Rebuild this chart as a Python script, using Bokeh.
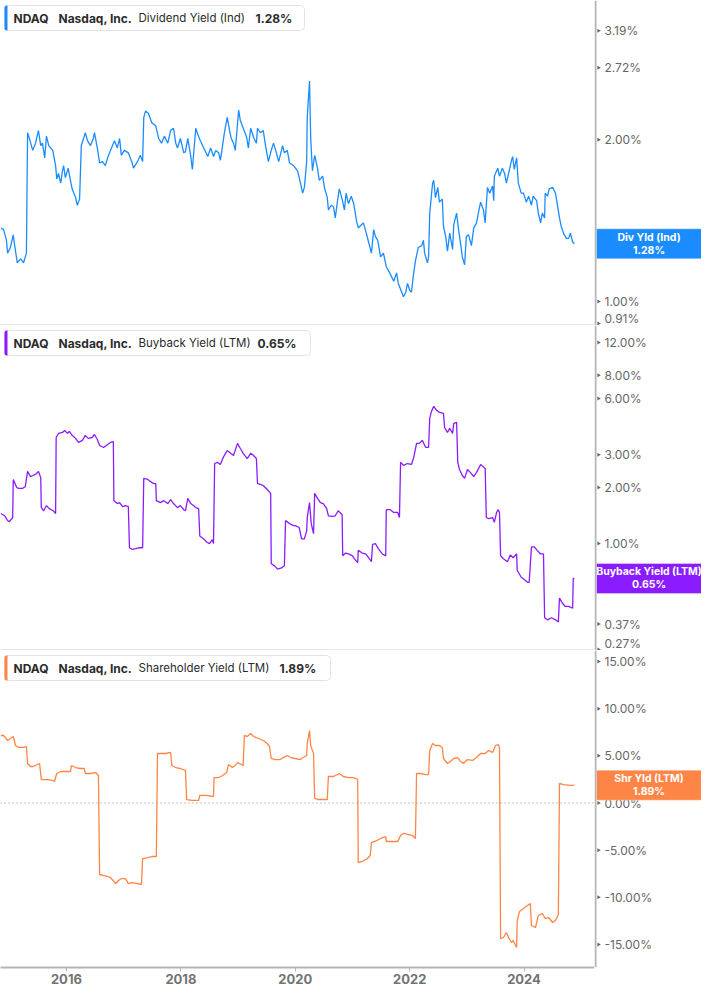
import math
import pandas as pd
from bokeh.plotting import figure
from bokeh.layouts import column, row
from bokeh.models import (Range1d, FixedTicker, DatetimeTickFormatter,
                          BoxAnnotation, Label, Span)
from bokeh.core.properties import value
from bokeh.embed import file_html
from bokeh.resources import INLINE

# ---------------- data ----------------
SYMBOL = "NDAQ"
COMPANY = "Nasdaq, Inc."
metric_names = ["Dividend Yield (Ind)", "Buyback Yield (LTM)", "Shareholder Yield (LTM)"]
short_names = ["Div Yld (Ind)", "Buyback Yield (LTM)", "Shr Yld (LTM)"]
last_values = [1.28, 0.65, 1.89]

div_ticks = [0.91, 1.00, 2.00, 2.72, 3.19]
buyback_ticks = [0.27, 0.37, 1.00, 2.00, 3.00, 6.00, 8.00, 12.00]
shareholder_ticks = [-15, -10, -5, 0, 5, 10, 15]
year_ticks = [2016, 2018, 2020, 2022, 2024]

div_dates = [
    2014.85, 2014.90, 2014.95, 2014.97, 2015.02, 2015.07, 2015.09, 2015.14, 2015.20, 2015.25,
    2015.30, 2015.32, 2015.34, 2015.41, 2015.46, 2015.51, 2015.55, 2015.58, 2015.62, 2015.65,
    2015.69, 2015.76, 2015.81, 2015.83, 2015.86, 2015.90, 2015.93, 2015.95, 2015.98, 2016.03,
    2016.07, 2016.10, 2016.16, 2016.19, 2016.23, 2016.26, 2016.30, 2016.33, 2016.37, 2016.42,
    2016.47, 2016.49, 2016.54, 2016.58, 2016.63, 2016.68, 2016.72, 2016.77, 2016.84, 2016.89,
    2016.93, 2016.96, 2017.01, 2017.08, 2017.14, 2017.17, 2017.24, 2017.29, 2017.33, 2017.35,
    2017.38, 2017.43, 2017.49, 2017.56, 2017.61, 2017.66, 2017.71, 2017.77, 2017.82, 2017.87,
    2017.91, 2017.94, 2017.99, 2018.05, 2018.08, 2018.12, 2018.17, 2018.20, 2018.26, 2018.29,
    2018.34, 2018.40, 2018.47, 2018.52, 2018.57, 2018.61, 2018.66, 2018.69, 2018.74, 2018.76,
    2018.81, 2018.85, 2018.88, 2018.92, 2018.95, 2018.97, 2019.01, 2019.04, 2019.09, 2019.15,
    2019.18, 2019.22, 2019.27, 2019.32, 2019.34, 2019.39, 2019.44, 2019.48, 2019.53, 2019.58,
    2019.62, 2019.67, 2019.71, 2019.78, 2019.81, 2019.86, 2019.90, 2019.97, 2020.04, 2020.07,
    2020.13, 2020.16, 2020.20, 2020.21, 2020.25, 2020.27, 2020.30, 2020.34, 2020.39, 2020.42,
    2020.48, 2020.51, 2020.56, 2020.58, 2020.63, 2020.67, 2020.70, 2020.74, 2020.77, 2020.82,
    2020.86, 2020.89, 2020.93, 2020.98, 2021.02, 2021.07, 2021.10, 2021.16, 2021.19, 2021.24,
    2021.28, 2021.33, 2021.37, 2021.40, 2021.44, 2021.49, 2021.54, 2021.59, 2021.65, 2021.72,
    2021.77, 2021.80, 2021.86, 2021.89, 2021.93, 2021.96, 2022.00, 2022.03, 2022.07, 2022.10,
    2022.15, 2022.21, 2022.24, 2022.26, 2022.31, 2022.33, 2022.35, 2022.40, 2022.42, 2022.45,
    2022.49, 2022.52, 2022.57, 2022.59, 2022.63, 2022.66, 2022.70, 2022.75, 2022.77, 2022.82,
    2022.85, 2022.89, 2022.92, 2022.96, 2022.99, 2023.03, 2023.08, 2023.12, 2023.17, 2023.20,
    2023.24, 2023.29, 2023.32, 2023.36, 2023.40, 2023.45, 2023.47, 2023.48, 2023.54, 2023.57,
    2023.62, 2023.66, 2023.69, 2023.73, 2023.78, 2023.80, 2023.83, 2023.87, 2023.90, 2023.95,
    2023.99, 2024.04, 2024.08, 2024.13, 2024.16, 2024.22, 2024.25, 2024.29, 2024.32, 2024.36,
    2024.37, 2024.41, 2024.44, 2024.50, 2024.55, 2024.58, 2024.62, 2024.65, 2024.69, 2024.74,
    2024.78, 2024.81, 2024.85, 2024.88,
]
div_values = [
    1.37, 1.36, 1.30, 1.23, 1.26, 1.33, 1.28, 1.18, 1.20, 1.18,
    1.23, 2.06, 2.03, 1.91, 1.97, 2.08, 1.95, 1.97, 1.85, 2.03,
    1.95, 1.91, 1.79, 1.69, 1.73, 1.66, 1.75, 1.79, 1.70, 1.77,
    1.68, 1.62, 1.56, 1.51, 1.55, 1.95, 2.01, 2.06, 1.99, 1.95,
    2.01, 2.06, 1.93, 1.81, 1.82, 1.79, 1.85, 1.91, 1.99, 1.93,
    2.01, 1.87, 1.91, 1.89, 1.82, 1.77, 1.82, 1.87, 1.82, 2.20,
    2.26, 2.24, 2.15, 2.12, 2.01, 1.97, 2.03, 1.97, 2.08, 2.10,
    1.97, 1.93, 2.01, 1.89, 1.90, 2.01, 1.87, 1.76, 2.10, 2.05,
    1.99, 1.93, 1.86, 1.93, 1.86, 1.91, 1.89, 1.83, 1.99, 2.06,
    2.20, 2.08, 2.01, 1.97, 1.91, 2.02, 2.27, 2.17, 2.10, 2.02,
    1.93, 2.10, 2.02, 1.97, 2.10, 2.06, 2.08, 1.95, 1.82, 1.91,
    1.97, 1.89, 1.82, 1.95, 1.89, 1.91, 1.81, 1.79, 1.75, 1.70,
    1.59, 1.63, 1.82, 2.20, 2.57, 2.02, 1.75, 1.87, 1.77, 1.68,
    1.71, 1.63, 1.56, 1.48, 1.51, 1.50, 1.43, 1.54, 1.62, 1.55,
    1.48, 1.59, 1.52, 1.57, 1.52, 1.41, 1.37, 1.39, 1.40, 1.34,
    1.29, 1.23, 1.36, 1.32, 1.30, 1.21, 1.23, 1.16, 1.13, 1.09,
    1.13, 1.08, 1.04, 1.02, 1.04, 1.08, 1.05, 1.04, 1.13, 1.19,
    1.26, 1.27, 1.30, 1.23, 1.18, 1.21, 1.46, 1.66, 1.68, 1.56,
    1.63, 1.53, 1.55, 1.38, 1.32, 1.24, 1.34, 1.25, 1.39, 1.46,
    1.37, 1.28, 1.21, 1.17, 1.32, 1.33, 1.27, 1.37, 1.40, 1.46,
    1.53, 1.48, 1.40, 1.63, 1.59, 1.64, 1.54, 1.71, 1.77, 1.71,
    1.77, 1.73, 1.66, 1.73, 1.83, 1.86, 1.76, 1.85, 1.66, 1.59,
    1.59, 1.53, 1.57, 1.51, 1.57, 1.54, 1.46, 1.40, 1.46, 1.43,
    1.59, 1.57, 1.62, 1.63, 1.59, 1.52, 1.43, 1.38, 1.34, 1.31,
    1.31, 1.34, 1.29, 1.28,
]

buyback_dates = [
    2014.85, 2014.92, 2014.97, 2015.00, 2015.06, 2015.07, 2015.13, 2015.16, 2015.23, 2015.28,
    2015.32, 2015.37, 2015.42, 2015.48, 2015.51, 2015.55, 2015.56, 2015.60, 2015.65, 2015.70,
    2015.77, 2015.81, 2015.82, 2015.86, 2015.93, 2015.97, 2016.02, 2016.05, 2016.10, 2016.16,
    2016.21, 2016.28, 2016.33, 2016.38, 2016.45, 2016.49, 2016.54, 2016.58, 2016.65, 2016.72,
    2016.77, 2016.82, 2016.83, 2016.89, 2016.93, 2016.98, 2017.03, 2017.08, 2017.10, 2017.15,
    2017.21, 2017.26, 2017.33, 2017.35, 2017.42, 2017.47, 2017.52, 2017.56, 2017.57, 2017.64,
    2017.70, 2017.77, 2017.82, 2017.87, 2017.94, 2017.99, 2018.05, 2018.08, 2018.12, 2018.17,
    2018.22, 2018.26, 2018.31, 2018.33, 2018.40, 2018.45, 2018.50, 2018.55, 2018.57, 2018.59,
    2018.64, 2018.69, 2018.74, 2018.81, 2018.87, 2018.92, 2018.99, 2019.04, 2019.09, 2019.16,
    2019.22, 2019.27, 2019.32, 2019.34, 2019.39, 2019.44, 2019.51, 2019.57, 2019.58, 2019.64,
    2019.69, 2019.76, 2019.81, 2019.83, 2019.90, 2019.97, 2020.00, 2020.07, 2020.11, 2020.16,
    2020.20, 2020.21, 2020.25, 2020.28, 2020.32, 2020.34, 2020.39, 2020.44, 2020.49, 2020.55,
    2020.58, 2020.65, 2020.70, 2020.75, 2020.82, 2020.83, 2020.88, 2020.93, 2021.00, 2021.03,
    2021.09, 2021.10, 2021.17, 2021.23, 2021.28, 2021.33, 2021.35, 2021.40, 2021.45, 2021.52,
    2021.58, 2021.59, 2021.66, 2021.72, 2021.79, 2021.82, 2021.84, 2021.89, 2021.96, 2022.03,
    2022.07, 2022.12, 2022.17, 2022.22, 2022.28, 2022.33, 2022.35, 2022.38, 2022.42, 2022.47,
    2022.52, 2022.59, 2022.61, 2022.66, 2022.70, 2022.75, 2022.77, 2022.82, 2022.84, 2022.87,
    2022.92, 2022.96, 2023.01, 2023.06, 2023.12, 2023.17, 2023.24, 2023.32, 2023.34, 2023.38,
    2023.45, 2023.48, 2023.52, 2023.55, 2023.57, 2023.59, 2023.64, 2023.71, 2023.76, 2023.81,
    2023.87, 2023.88, 2023.95, 2024.01, 2024.06, 2024.09, 2024.13, 2024.18, 2024.23, 2024.29,
    2024.34, 2024.36, 2024.41, 2024.48, 2024.55, 2024.60, 2024.62, 2024.67, 2024.72, 2024.78,
    2024.85, 2024.86, 2024.88,
]
buyback_values = [
    1.45, 1.41, 1.33, 1.31, 1.38, 2.21, 2.00, 1.98, 1.98, 2.02,
    2.44, 2.29, 2.32, 2.38, 2.44, 2.26, 1.56, 1.50, 1.60, 1.54,
    1.50, 1.45, 3.71, 3.90, 3.95, 4.05, 3.90, 4.00, 3.81, 3.67,
    3.49, 3.58, 3.81, 3.67, 3.71, 3.85, 3.62, 3.36, 3.28, 3.40,
    3.49, 3.53, 1.70, 1.64, 1.66, 1.58, 1.60, 1.58, 0.95, 0.93,
    0.94, 0.95, 0.95, 2.24, 2.21, 2.15, 2.10, 2.10, 1.70, 1.66,
    1.70, 1.64, 1.72, 1.64, 1.56, 1.60, 1.52, 1.50, 1.75, 1.64,
    1.60, 1.56, 1.54, 1.10, 1.06, 1.02, 1.00, 1.05, 1.00, 2.69,
    2.73, 2.66, 2.90, 3.16, 3.05, 2.97, 3.45, 3.24, 3.05, 2.86,
    3.05, 2.97, 2.86, 2.10, 2.08, 2.05, 1.95, 1.86, 0.78, 0.76,
    0.73, 0.74, 0.76, 1.33, 1.28, 1.25, 1.25, 1.22, 1.06, 1.06,
    1.17, 1.38, 1.66, 1.28, 1.13, 1.86, 1.75, 1.66, 1.64, 1.54,
    1.41, 1.40, 1.41, 1.50, 1.43, 0.86, 0.89, 0.88, 0.86, 0.83,
    0.79, 0.92, 0.89, 0.88, 0.84, 0.80, 0.99, 1.00, 0.94, 0.88,
    0.86, 1.52, 1.52, 1.47, 1.47, 1.38, 2.73, 2.63, 2.69, 2.66,
    2.90, 3.45, 3.45, 3.58, 3.28, 3.28, 4.70, 5.12, 5.45, 5.19,
    5.06, 5.00, 4.20, 3.95, 4.15, 3.90, 4.42, 4.47, 2.73, 2.50,
    2.32, 2.24, 2.50, 2.41, 2.29, 2.41, 2.66, 2.53, 1.38, 1.36,
    1.38, 1.30, 1.47, 1.52, 1.47, 0.86, 0.83, 0.80, 0.87, 0.84,
    0.88, 0.72, 0.66, 0.64, 0.62, 0.62, 0.96, 0.96, 0.92, 0.88,
    0.88, 0.40, 0.39, 0.40, 0.39, 0.38, 0.51, 0.48, 0.46, 0.46,
    0.45, 0.65, 0.65,
]

shareholder_dates = [
    2014.85, 2014.90, 2014.97, 2015.02, 2015.07, 2015.11, 2015.16, 2015.25, 2015.30, 2015.32,
    2015.37, 2015.42, 2015.49, 2015.53, 2015.56, 2015.62, 2015.67, 2015.76, 2015.79, 2015.83,
    2015.90, 2015.98, 2016.07, 2016.09, 2016.16, 2016.24, 2016.31, 2016.33, 2016.42, 2016.51,
    2016.56, 2016.58, 2016.65, 2016.72, 2016.77, 2016.86, 2016.91, 2016.96, 2017.03, 2017.08,
    2017.15, 2017.24, 2017.31, 2017.33, 2017.42, 2017.50, 2017.57, 2017.59, 2017.64, 2017.73,
    2017.82, 2017.84, 2017.91, 2017.99, 2018.08, 2018.10, 2018.20, 2018.31, 2018.33, 2018.43,
    2018.57, 2018.58, 2018.66, 2018.73, 2018.80, 2018.83, 2018.90, 2018.95, 2018.99, 2019.06,
    2019.09, 2019.11, 2019.16, 2019.22, 2019.27, 2019.36, 2019.44, 2019.51, 2019.55, 2019.58,
    2019.65, 2019.74, 2019.79, 2019.86, 2019.92, 2020.00, 2020.09, 2020.14, 2020.20, 2020.21,
    2020.25, 2020.27, 2020.30, 2020.32, 2020.34, 2020.41, 2020.49, 2020.56, 2020.58, 2020.67,
    2020.77, 2020.84, 2020.93, 2021.02, 2021.09, 2021.10, 2021.17, 2021.26, 2021.31, 2021.33,
    2021.42, 2021.49, 2021.58, 2021.59, 2021.70, 2021.79, 2021.84, 2021.89, 2021.98, 2022.05,
    2022.10, 2022.12, 2022.19, 2022.28, 2022.33, 2022.35, 2022.40, 2022.45, 2022.52, 2022.57,
    2022.59, 2022.66, 2022.71, 2022.77, 2022.84, 2022.89, 2022.94, 2023.01, 2023.10, 2023.17,
    2023.24, 2023.32, 2023.38, 2023.45, 2023.50, 2023.55, 2023.57, 2023.59, 2023.64, 2023.69,
    2023.73, 2023.78, 2023.81, 2023.87, 2023.88, 2023.92, 2023.99, 2024.06, 2024.11, 2024.13,
    2024.20, 2024.25, 2024.32, 2024.37, 2024.43, 2024.50, 2024.55, 2024.60, 2024.62, 2024.69,
    2024.81, 2024.88,
]
shareholder_values = [
    7.16, 7.16, 6.63, 6.84, 7.05, 6.10, 5.89, 5.89, 5.99, 4.19,
    3.87, 3.87, 4.08, 4.19, 2.49, 2.49, 2.49, 2.39, 2.28, 3.13,
    3.34, 3.34, 3.34, 3.98, 3.76, 3.66, 3.66, 3.13, 3.13, 3.23,
    2.92, -7.58, -7.69, -7.79, -7.90, -8.54, -8.22, -8.01, -8.01, -8.54,
    -8.43, -8.54, -8.64, -5.89, -5.78, -5.67, -5.67, 5.25, 5.25, 5.25,
    5.36, 3.98, 3.76, 3.66, 3.45, 0.37, 0.27, 0.27, 0.80, 0.80,
    0.69, 2.70, 2.70, 2.92, 3.23, 4.08, 3.76, 3.98, 4.29, 4.08,
    3.98, 7.16, 7.05, 7.37, 7.05, 6.84, 6.63, 6.31, 5.99, 4.72,
    4.61, 4.61, 4.82, 5.04, 4.82, 4.72, 4.61, 4.82, 5.04, 6.31,
    7.69, 6.10, 5.57, 5.25, 0.48, 0.37, 0.37, 0.37, 2.81, 2.81,
    3.13, 2.81, 2.70, 2.70, 2.49, -6.31, -6.20, -5.89, -5.57, -4.19,
    -3.98, -3.76, -3.55, -4.08, -4.08, -4.08, -3.45, -3.23, -3.34, -3.45,
    -3.76, 3.13, 3.13, 3.02, 3.02, 5.57, 6.31, 6.10, 6.10, 5.89,
    4.72, 4.19, 4.40, 4.72, 4.82, 4.40, 4.19, 4.61, 4.51, 4.82,
    5.25, 5.25, 5.57, 5.36, 6.10, 6.20, 5.89, -14.37, -14.26, -13.73,
    -14.26, -14.79, -14.58, -15.32, -12.46, -11.51, -11.19, -10.87, -10.66, -12.99,
    -13.20, -11.93, -11.72, -12.25, -12.14, -12.67, -12.46, -11.82, 2.07, 1.96,
    1.86, 1.89,
]

assert len(div_dates) == len(div_values)
assert len(buyback_dates) == len(buyback_values)
assert len(shareholder_dates) == len(shareholder_values)

# ---------------- style ----------------
FONT = "Inter"
COLORS = ["#1a8cff", "#8a1cff", "#ff8547"]
FRAME_W = 594
SIDE_W = 107
FRAME_H = [325, 325, 317]
AXIS_H = 22
AXIS_COLOR = "#b5b5b5"
LABEL_COLOR = "#666666"
HALF_TEXT = 7.5  # px: keep tick labels fully inside their panel


def to_dt(y):
    yr = int(math.floor(y))
    return pd.Timestamp(year=yr, month=1, day=1) + pd.Timedelta(days=(y - yr) * 365.25)


x_range = Range1d(to_dt(2014.846), to_dt(2025.23))
side_x = Range1d(0, SIDE_W)
y_ranges = [Range1d(0.902, 3.63), Range1d(0.267, 14.8), Range1d(-17.44, 16.17)]
logs = [True, True, False]
tick_sets = [div_ticks, buyback_ticks, shareholder_ticks]
series = [(div_dates, div_values), (buyback_dates, buyback_values),
          (shareholder_dates, shareholder_values)]
legend_w = [300, 306, 326]
value_x = [255, 257, 279]


def px_from_bottom(i, v):
    r = y_ranges[i]
    h = FRAME_H[i]
    if logs[i]:
        return h * math.log(v / r.start) / math.log(r.end / r.start)
    return h * (v - r.start) / (r.end - r.start)


rows = []
for i in range(3):
    last = i == 2
    fh = FRAME_H[i]
    ytype = "log" if logs[i] else "linear"
    common = dict(frame_height=fh, y_range=y_ranges[i], y_axis_type=ytype,
                  y_axis_location=None, output_backend="svg", toolbar_location=None,
                  min_border_left=0, min_border_right=0, min_border_top=0,
                  min_border_bottom=AXIS_H if last else 0)

    # ---- main chart ----
    p = figure(frame_width=FRAME_W, x_axis_type="datetime", x_range=x_range,
               x_axis_location="below" if last else None, **common)
    p.outline_line_color = None
    p.grid.visible = False
    d, v = series[i]
    p.line([to_dt(t) for t in d], v, line_color=COLORS[i], line_width=1.3)

    if last:
        xa = p.xaxis[0]
        xa.ticker = FixedTicker(ticks=[pd.Timestamp(year=y, month=1, day=1).value // 10**6
                                       for y in year_ticks])
        xa.formatter = DatetimeTickFormatter(years="%Y", months="%Y", days="%Y")
        xa.axis_line_color = AXIS_COLOR
        xa.axis_line_width = 2
        xa.major_tick_in = 0
        xa.major_tick_out = 4
        xa.major_tick_line_color = AXIS_COLOR
        xa.minor_tick_line_color = None
        xa.major_label_standoff = 2
        xa.major_label_text_font = FONT
        xa.major_label_text_font_size = "13px"
        xa.major_label_text_font_style = "bold"
        xa.major_label_text_color = "#737373"
        p.add_layout(Span(location=0, dimension="width", line_color="#888888",
                          line_dash="1 3", line_width=1.2))
    else:
        p.add_layout(BoxAnnotation(left=0, right=FRAME_W, bottom=0, top=1,
                                   left_units="screen", right_units="screen",
                                   bottom_units="screen", top_units="screen",
                                   fill_color="#d0d0d0", fill_alpha=1, line_color=None,
                                   level="overlay"))

    # legend box
    top = fh - 5
    bot = top - 25
    p.add_layout(BoxAnnotation(left=4, right=4 + legend_w[i], bottom=bot, top=top,
                               left_units="screen", right_units="screen",
                               bottom_units="screen", top_units="screen",
                               fill_color="white", fill_alpha=1, line_color="#e3e3e3",
                               line_alpha=1, line_width=1, border_radius=4, level="overlay"))
    p.add_layout(BoxAnnotation(left=4, right=7, bottom=bot, top=top,
                               left_units="screen", right_units="screen",
                               bottom_units="screen", top_units="screen",
                               fill_color=COLORS[i], fill_alpha=1, line_color=None,
                               border_radius=(2, 0, 0, 2), level="overlay"))
    cy = (top + bot) / 2
    pieces = [(13, SYMBOL, "bold", "12px"), (58, COMPANY, "bold", "12px"),
              (138, metric_names[i], "normal", "11.5px"),
              (value_x[i], f"{last_values[i]:.2f}%", "bold", "12px")]
    for px, txt, style, size in pieces:
        p.add_layout(Label(x=px, y=cy, x_units="screen", y_units="screen", text=txt,
                           text_font=FONT, text_font_size=size, text_font_style=style,
                           text_color="#2b2b2b", text_baseline="middle", level="overlay"))

    # ---- right value axis panel ----
    s = figure(frame_width=SIDE_W, x_range=side_x, x_axis_location=None, **common)
    s.outline_line_color = None
    s.grid.visible = False
    ticks = tick_sets[i]
    offsets = []
    for t in ticks:
        pb = px_from_bottom(i, t)
        pt = fh - pb
        if pb < HALF_TEXT:
            offsets.append(-(HALF_TEXT - pb))
        elif pt < HALF_TEXT:
            offsets.append(HALF_TEXT - pt)
        else:
            offsets.append(0)
    s.add_layout(Span(location=1, dimension="height", line_color=AXIS_COLOR, line_width=2))
    s.scatter([4] * len(ticks), ticks, marker="triangle", size=4, angle=-math.pi / 2,
              fill_color=LABEL_COLOR, line_color=None)
    s.text([10] * len(ticks), ticks, text=[f"{t:.2f}%" for t in ticks], y_offset=offsets,
           text_font=value(FONT), text_font_size=value("12px"), text_color=LABEL_COLOR,
           text_baseline="middle", text_align="left")
    lv = last_values[i]
    s.rect([54.5], [lv], width=[105], height=[30], height_units="screen",
           fill_color=COLORS[i], line_color="white", line_alpha=0.35, line_width=1)
    s.text([54.5], [lv], text=[short_names[i]], y_offset=-6.5,
           text_font=value(FONT), text_font_size=value("10.5px"), text_font_style="bold",
           text_color="white", text_align="center", text_baseline="middle")
    s.text([54.5], [lv], text=[f"{lv:.2f}%"], y_offset=6.5,
           text_font=value(FONT), text_font_size=value("10.5px"), text_font_style="bold",
           text_color="white", text_align="center", text_baseline="middle")
    rows.append(row(p, s, spacing=0))

layout = column(*rows, spacing=0)
open("out.html", "w").write(file_html(layout, INLINE))
